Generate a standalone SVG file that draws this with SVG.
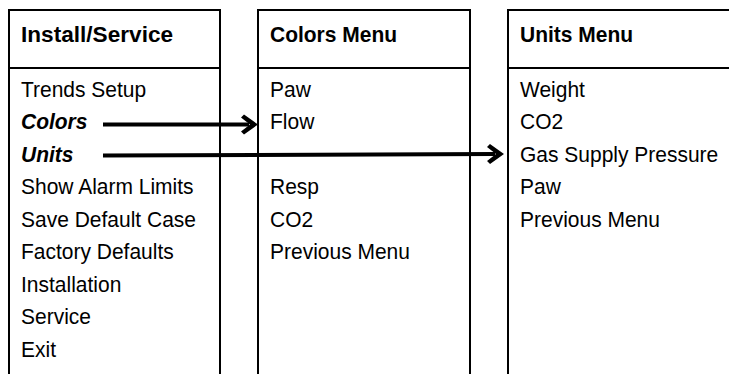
<svg xmlns="http://www.w3.org/2000/svg" width="729" height="374" viewBox="0 0 729 374">
<style>
.box{fill:#fff;stroke:#000;stroke-width:2}
.div{stroke:#000;stroke-width:2}
text{font-family:"Liberation Sans",Arial,sans-serif;font-size:22.5px;fill:#000}
.h{font-weight:bold}
.bi{font-weight:bold;font-style:italic}
.conn{stroke:#000;stroke-width:4;fill:none}
</style>
<defs>
<marker id="ah" markerUnits="userSpaceOnUse" markerWidth="20" markerHeight="22" viewBox="0 0 20 22" refX="8" refY="11" orient="auto">
<polygon points="17,11 3,1 0,4 9,11 0,18 3,21" fill="#000"/>
</marker>
</defs>
<rect width="729" height="374" fill="#fff"/>
<g id="install-service">
<rect class="box" x="9" y="10" width="211" height="380"/>
<line class="div" x1="9" y1="68" x2="220" y2="68"/>
<g transform="translate(21,0) scale(0.933,1)">
<text class="h" x="0" y="42" textLength="163" lengthAdjust="spacingAndGlyphs">Install/Service</text>
<text x="0" y="97">Trends Setup</text>
<text class="bi" x="0" y="129.5">Colors</text>
<text class="bi" x="0" y="162">Units</text>
<text x="0" y="194.5">Show Alarm Limits</text>
<text x="0" y="227">Save Default Case</text>
<text x="0" y="259.5">Factory Defaults</text>
<text x="0" y="292">Installation</text>
<text x="0" y="324.5">Service</text>
<text x="0" y="357">Exit</text>
</g>
</g>
<g id="colors-menu">
<rect class="box" x="258" y="10" width="212" height="380"/>
<line class="div" x1="258" y1="68" x2="470" y2="68"/>
<g transform="translate(270,0) scale(0.933,1)">
<text class="h" x="0" y="42">Colors Menu</text>
<text x="0" y="97">Paw</text>
<text x="0" y="129.5">Flow</text>
<text x="0" y="194.5">Resp</text>
<text x="0" y="227">CO2</text>
<text x="0" y="259.5">Previous Menu</text>
</g>
</g>
<g id="units-menu">
<rect class="box" x="508" y="10" width="240" height="380"/>
<line class="div" x1="508" y1="68" x2="748" y2="68"/>
<g transform="translate(520,0) scale(0.933,1)">
<text class="h" x="0" y="42">Units Menu</text>
<text x="0" y="97">Weight</text>
<text x="0" y="129.5">CO2</text>
<text x="0" y="162">Gas Supply Pressure</text>
<text x="0" y="194.5">Paw</text>
<text x="0" y="227">Previous Menu</text>
</g>
</g>
<g id="connectors">
<line class="conn" x1="103" y1="124.5" x2="249" y2="124.5" marker-end="url(#ah)"/>
<line class="conn" x1="103" y1="155.5" x2="495" y2="154" marker-end="url(#ah)"/>
</g>
</svg>
